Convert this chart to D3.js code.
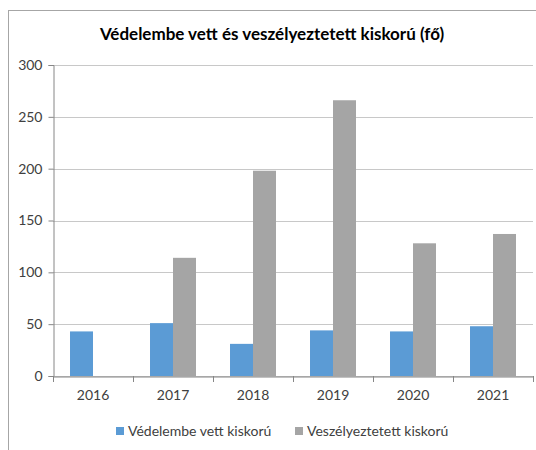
<!DOCTYPE html>
<html>
<head>
<meta charset="utf-8">
<script src="https://cdn.jsdelivr.net/npm/d3@7"></script>
<style>
  html, body { margin: 0; padding: 0; background: #fff; }
  svg { display: block; }
  text { font-family: Lato, "Open Sans", sans-serif; }
</style>
</head>
<body>
<svg id="chart" width="536" height="450"></svg>
<script>
const title = "Védelembe vett és veszélyeztetett kiskorú (fő)";
const years = ["2016", "2017", "2018", "2019", "2020", "2021"];
const seriesNames = ["Védelembe vett kiskorú", "Veszélyeztetett kiskorú"];
const protectedValues = [43, 51, 31, 44, 43, 48];
const endangeredValues = [null, 114, 198, 266, 128, 137];
const yTicks = [0, 50, 100, 150, 200, 250, 300];
const colors = ["#5B9BD5", "#A5A5A5"];

const svg = d3.select("#chart");
const margin = { left: 53, right: 3, top: 65, bottom: 74 };
const W = 536, H = 450;

// outer frame
svg.append("rect")
  .attr("x", 8.5).attr("y", 10.5)
  .attr("width", 700).attr("height", 700)
  .attr("fill", "#fff").attr("stroke", "#a6a6a6").attr("stroke-width", 1);

const x0 = d3.scaleBand().domain(years).range([53, 533]).padding(0);
const x1 = d3.scaleBand().domain(seriesNames).range([0, x0.bandwidth()])
  .paddingInner(0).paddingOuter(0.74);
const y = d3.scaleLinear().domain([0, 300]).range([376, 65]);

// gridlines
svg.append("g").selectAll("line").data(yTicks).join("line")
  .attr("x1", 53).attr("x2", 533)
  .attr("y1", d => Math.round(y(d)) + 0.5).attr("y2", d => Math.round(y(d)) + 0.5)
  .attr("stroke", "#c8c8c8").attr("stroke-width", 1);

// bars
const rows = years.map((yr, i) => ({ yr, vals: [protectedValues[i], endangeredValues[i]] }));
const g = svg.append("g");
rows.forEach(r => {
  r.vals.forEach((v, j) => {
    if (v == null) return;
    g.append("rect")
      .attr("x", x0(r.yr) + x1(seriesNames[j]))
      .attr("y", y(v))
      .attr("width", x1.bandwidth())
      .attr("height", y(0) - y(v))
      .attr("fill", colors[j]);
  });
});

// y axis
const yAxis = d3.axisLeft(y).tickValues(yTicks).tickSize(5).tickPadding(6);
const ya = svg.append("g").attr("transform", "translate(53.5,0)").call(yAxis);
ya.select(".domain").attr("stroke", "#868686");
ya.selectAll(".tick line").attr("stroke", "#868686");
ya.selectAll(".tick text").attr("font-size", 14).attr("fill", "#404040")
  .attr("font-family", "Lato, sans-serif");

// x axis
const xAxis = d3.axisBottom(x0).tickSize(0).tickPadding(14);
const xa = svg.append("g").attr("transform", "translate(0,376.5)").call(xAxis);
xa.select(".domain").attr("stroke", "#868686");
xa.selectAll(".tick text").attr("font-size", 14).attr("fill", "#404040")
  .attr("font-family", "Lato, sans-serif");
// category boundary ticks
svg.append("g").selectAll("line").data(years.concat(["end"])).join("line")
  .attr("x1", (d, i) => Math.round(i < years.length ? x0(d) : x0(years[years.length - 1]) + x0.bandwidth()) + 0.5)
  .attr("x2", (d, i) => Math.round(i < years.length ? x0(d) : x0(years[years.length - 1]) + x0.bandwidth()) + 0.5)
  .attr("y1", 376).attr("y2", 382)
  .attr("stroke", "#868686");

// title
svg.append("text")
  .attr("x", 272).attr("y", 40)
  .attr("text-anchor", "middle")
  .attr("font-size", 17).attr("font-weight", "bold").attr("fill", "#000")
  .text(title);

// legend
const legendItems = [{ name: seriesNames[0], x: 116 }, { name: seriesNames[1], x: 295 }];
const lg = svg.append("g");
legendItems.forEach((it, i) => {
  lg.append("rect").attr("x", it.x).attr("y", 427).attr("width", 8).attr("height", 8)
    .attr("fill", colors[i]);
  lg.append("text").attr("x", it.x + 12).attr("y", 436)
    .attr("font-size", 14).attr("fill", "#404040").text(it.name);
});
</script>
</body>
</html>
